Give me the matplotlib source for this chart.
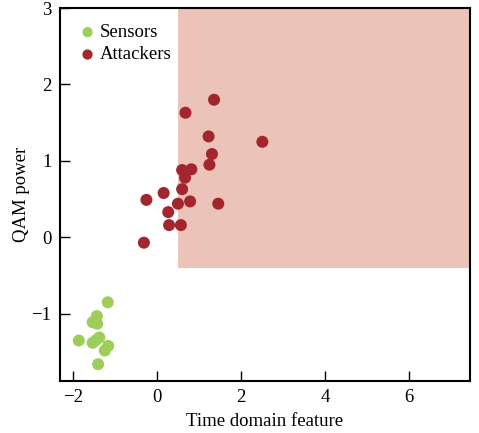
import matplotlib
matplotlib.use("Agg")
import matplotlib.pyplot as plt
from matplotlib.patches import Rectangle

plt.rcParams['font.family'] = ['Liberation Serif', 'DejaVu Serif']
plt.rcParams['mathtext.fontset'] = 'stix'

sensors_x = [-1.17, -1.43, -1.53, -1.42, -1.86, -1.37, -1.53, -1.46, -1.16, -1.24, -1.40]
sensors_y = [-0.85, -1.03, -1.11, -1.13, -1.35, -1.31, -1.38, -1.35, -1.42, -1.48, -1.66]

attackers_x = [1.36, 0.68, 1.23, 2.51, 1.31, 1.25, 0.60, 0.82, 0.67, 0.60, 0.16, -0.25,
               0.50, 0.79, 1.46, 0.27, 0.29, 0.57, -0.31]
attackers_y = [1.80, 1.63, 1.32, 1.25, 1.09, 0.95, 0.88, 0.89, 0.78, 0.63, 0.58, 0.49,
               0.44, 0.47, 0.44, 0.33, 0.16, 0.16, -0.07]

region_x0, region_y0 = 0.5, -0.4
xlim = (-2.31, 7.45)
ylim = (-1.88, 3.0)

fig = plt.figure(figsize=(4.79, 4.33), dpi=100)
ax = fig.add_axes([0.125, 0.12, 0.856, 0.8615])

ax.add_patch(Rectangle((region_x0, region_y0), xlim[1] - region_x0, ylim[1] - region_y0,
                       facecolor='#ecc3b9', edgecolor='none', zorder=0))

ax.scatter(sensors_x, sensors_y, s=75, color='#9dce5a', edgecolors='none', label='Sensors', zorder=3)
ax.scatter(attackers_x, attackers_y, s=75, color='#a3262e', edgecolors='none', label='Attackers', zorder=3)

ax.set_xlim(*xlim)
ax.set_ylim(*ylim)
ax.set_xticks([-2, 0, 2, 4, 6])
ax.set_yticks([-1, 0, 1, 2, 3])
ax.set_xticklabels(['\u22122', '0', '2', '4', '6'])
ax.set_yticklabels(['\u22121', '0', '1', '2', '3'])
ax.tick_params(direction='in', length=7, width=1, labelsize=13.5, pad=6)
for s in ax.spines.values():
    s.set_linewidth(1.5)

ax.set_xlabel('Time domain feature', fontsize=13.5, labelpad=5)
ax.set_ylabel('QAM power', fontsize=13.5, labelpad=1)

ax.legend(loc='upper left', frameon=False, fontsize=13.5, handletextpad=0.05,
          borderaxespad=0.45, labelspacing=0.28, markerscale=0.85, handlelength=1.25)

fig.savefig('out.png', dpi=100)
